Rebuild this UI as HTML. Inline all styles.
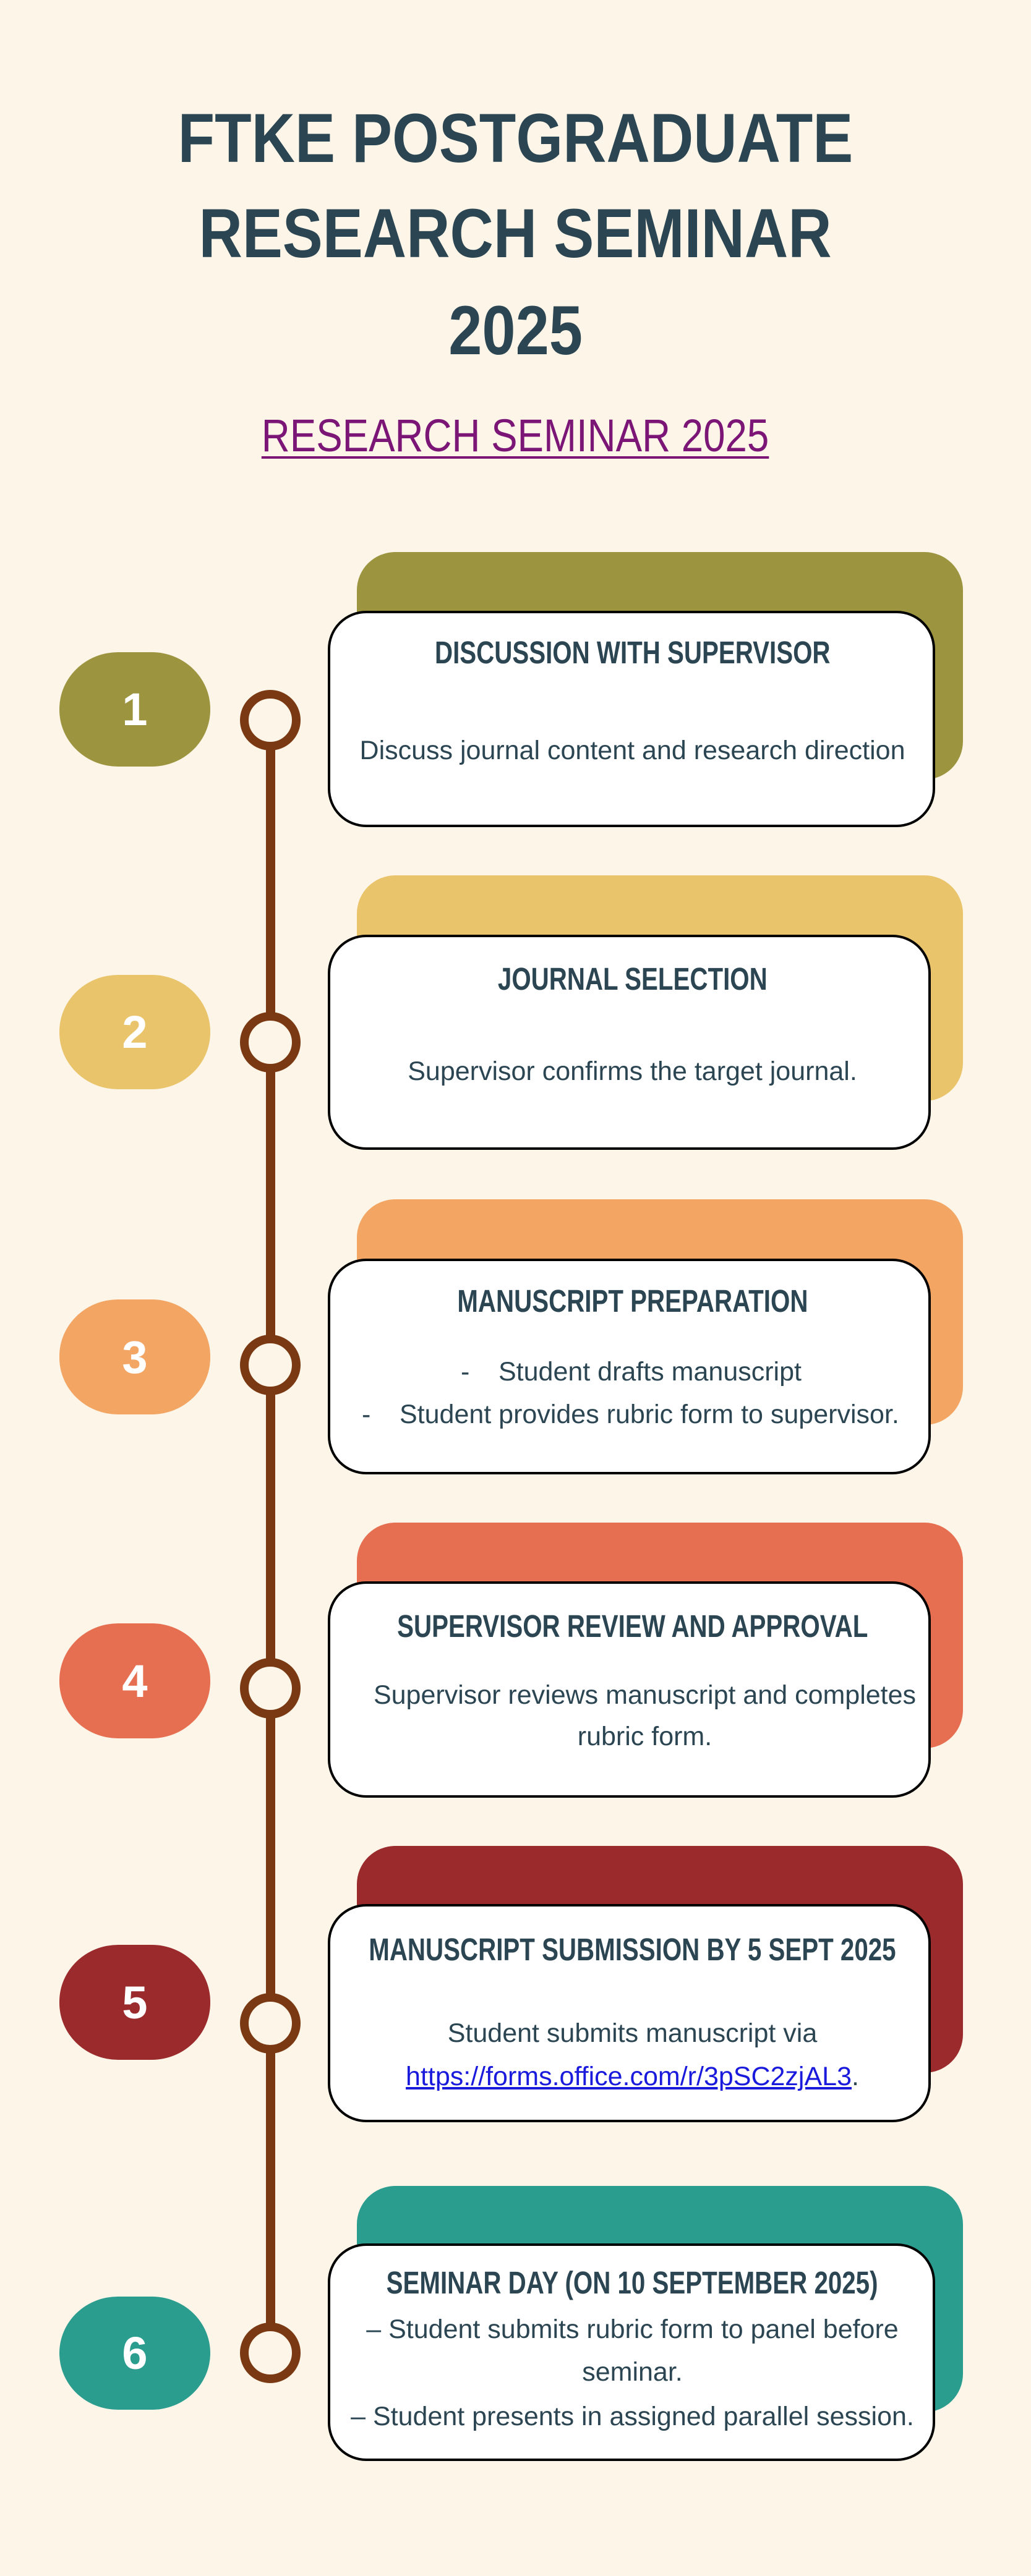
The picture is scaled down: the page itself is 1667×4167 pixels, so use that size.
<!DOCTYPE html>
<html><head><meta charset="utf-8"><style>
body{margin:0;background:#fdf5e8;}
#p{position:relative;width:1667px;height:4167px;background:#fdf5e8;overflow:hidden;font-family:"Liberation Sans",sans-serif;color:#2b4652;}
.a{position:absolute;}
.back{position:absolute;left:577px;width:980px;border-radius:62px;}
.front{position:absolute;left:530px;background:#fff;border:4px solid #000;border-radius:62px;box-sizing:border-box;}
.pill{position:absolute;left:96px;width:244px;border-radius:95px/92px;color:#fff;font-family:"Liberation Sans",sans-serif;font-weight:bold;font-size:74px;display:flex;align-items:center;justify-content:center;}
.ring{position:absolute;left:388px;width:98px;height:98px;border:14px solid #7a3912;border-radius:50%;box-sizing:border-box;background:#fdf5e8;}
.t{position:absolute;left:530px;width:985px;display:flex;justify-content:center;font-weight:bold;font-size:51px;height:60px;line-height:60px;white-space:nowrap;}
.t span{display:inline-block;transform:scaleX(0.79);flex:none;}
.b{position:absolute;left:530px;width:985px;text-align:center;font-size:43px;height:56px;line-height:56px;white-space:nowrap;}
.h{position:absolute;left:0;width:1667px;display:flex;justify-content:center;font-family:"Liberation Sans",sans-serif;font-weight:bold;font-size:112px;height:130px;line-height:130px;color:#2b4652;white-space:nowrap;}
.h span{display:inline-block;transform:scaleX(0.87);flex:none;}
</style></head><body><div id="p">
<div class="h" style="top:159px"><span>FTKE POSTGRADUATE</span></div>
<div class="h" style="top:313px"><span>RESEARCH SEMINAR</span></div>
<div class="h" style="top:470px"><span>2025</span></div>
<div class="a" style="left:0;width:1667px;top:665px;height:80px;line-height:80px;text-align:center;font-size:74px;color:#7b1677;"><span style="display:inline-block;transform:scaleX(0.86);text-decoration:underline;text-decoration-thickness:4px;text-underline-offset:8px;">RESEARCH SEMINAR 2025</span></div>

<div class="a" style="left:430px;top:1200px;width:15px;height:2570px;background:#7a3912"></div>

<!-- 1 -->
<div class="back" style="top:893px;height:368px;background:#9c943f"></div>
<div class="front" style="top:988px;height:350px;width:982px"></div>
<div class="pill" style="top:1055px;height:185px;background:#9c943f">1</div>
<div class="ring" style="top:1116px"></div>
<div class="t" style="top:1026px"><span>DISCUSSION WITH SUPERVISOR</span></div>
<div class="b" style="top:1186px">Discuss journal content and research direction</div>

<!-- 2 -->
<div class="back" style="top:1416px;height:365px;background:#e9c46b"></div>
<div class="front" style="top:1512px;height:348px;width:975px"></div>
<div class="pill" style="top:1577px;height:185px;background:#e9c46b">2</div>
<div class="ring" style="top:1637px"></div>
<div class="t" style="top:1554px"><span>JOURNAL SELECTION</span></div>
<div class="b" style="top:1705px">Supervisor confirms the target journal.</div>

<!-- 3 -->
<div class="back" style="top:1940px;height:365px;background:#f3a563"></div>
<div class="front" style="top:2036px;height:349px;width:975px"></div>
<div class="pill" style="top:2102px;height:186px;background:#f3a563">3</div>
<div class="ring" style="top:2159px"></div>
<div class="t" style="top:2075px"><span>MANUSCRIPT PREPARATION</span></div>
<div class="b" style="top:2191px;left:745px;width:auto;text-align:left">-</div>
<div class="b" style="top:2191px;left:806px;width:auto;text-align:left">Student drafts manuscript</div>
<div class="b" style="top:2260px;left:585px;width:auto;text-align:left">-</div>
<div class="b" style="top:2260px;left:646px;width:auto;text-align:left">Student provides rubric form to supervisor.</div>

<!-- 4 -->
<div class="back" style="top:2463px;height:365px;background:#e76f51"></div>
<div class="front" style="top:2558px;height:350px;width:975px"></div>
<div class="pill" style="top:2626px;height:186px;background:#e76f51">4</div>
<div class="ring" style="top:2682px"></div>
<div class="t" style="top:2601px"><span>SUPERVISOR REVIEW AND APPROVAL</span></div>
<div class="b" style="top:2714px;left:550px">Supervisor reviews manuscript and completes</div>
<div class="b" style="top:2781px;left:550px">rubric form.</div>

<!-- 5 -->
<div class="back" style="top:2986px;height:367px;background:#9b2a2c"></div>
<div class="front" style="top:3080px;height:353px;width:975px"></div>
<div class="pill" style="top:3146px;height:186px;background:#9b2a2c">5</div>
<div class="ring" style="top:3224px"></div>
<div class="t" style="top:3124px"><span>MANUSCRIPT SUBMISSION BY 5 SEPT 2025</span></div>
<div class="b" style="top:3261px">Student submits manuscript via</div>
<div class="b" style="top:3331px"><span style="color:#1a1adc;text-decoration:underline">https://forms.office.com/r/3pSC2zjAL3</span>.</div>

<!-- 6 -->
<div class="back" style="top:3536px;height:366px;background:#2a9d8f"></div>
<div class="front" style="top:3629px;height:352px;width:982px"></div>
<div class="pill" style="top:3715px;height:183px;background:#2a9d8f">6</div>
<div class="ring" style="top:3757px"></div>
<div class="t" style="top:3663px"><span>SEMINAR DAY (ON 10 SEPTEMBER 2025)</span></div>
<div class="b" style="top:3740px">– Student submits rubric form to panel before</div>
<div class="b" style="top:3809px">seminar.</div>
<div class="b" style="top:3881px">– Student presents in assigned parallel session.</div>
</div></body></html>
